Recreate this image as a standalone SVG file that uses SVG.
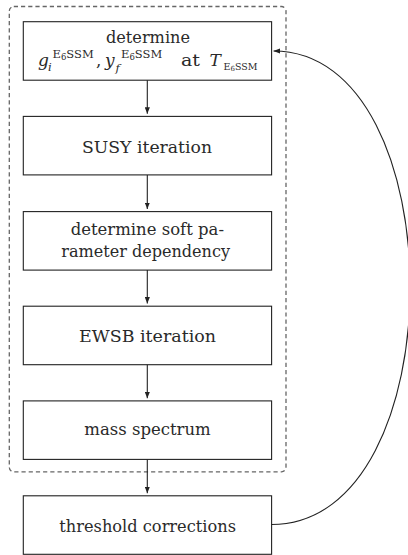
<svg xmlns="http://www.w3.org/2000/svg" width="408" height="555" viewBox="0 0 408 555">
<style>
.box{fill:#fff;stroke:#222;stroke-width:1.1}
.t{font-family:"DejaVu Serif","Liberation Serif","Noto Serif",serif;font-size:17px;fill:#2a2a2a}
.it{font-style:italic}
.sc{font-size:11.5px}
.ss{font-size:8.5px}
.sb{font-size:9.5px}
.sbs{font-size:7px}
.con{fill:none;stroke:#222;stroke-width:1.1}
.grp{fill:none;stroke:#666;stroke-width:1.3;stroke-dasharray:4.2 3}
</style>
<defs>
<marker id="ah" viewBox="0 0 10 8" refX="10" refY="4" markerWidth="6.5" markerHeight="5.2" orient="auto" markerUnits="userSpaceOnUse">
<path d="M0,0 L10,4 L0,8 z" fill="#222"/>
</marker>
</defs>
<rect id="iteration-loop" class="grp" x="9.3" y="6.5" width="276.7" height="465.3" rx="4.5" ry="4.5"/>
<g id="n1">
<rect class="box" x="23.3" y="21.7" width="248.3" height="58.5"/>
<text class="t" x="106" y="42.7" textLength="84" lengthAdjust="spacingAndGlyphs">determine</text>
<text class="t it" x="38" y="66">g</text>
<text class="t it sc" x="48" y="71">i</text>
<text class="t sc" x="52.5" y="57.5">E<tspan class="ss" dy="2">6</tspan><tspan dy="-2">SSM</tspan></text>
<text class="t" x="96" y="66">,</text>
<text class="t it" x="105" y="66">y</text>
<text class="t it sc" x="115.5" y="71.5">f</text>
<text class="t sc" x="121" y="57.5">E<tspan class="ss" dy="2">6</tspan><tspan dy="-2">SSM</tspan></text>
<text class="t" x="181" y="66" textLength="19" lengthAdjust="spacingAndGlyphs">at</text>
<text class="t it" x="209.5" y="66">T</text>
<text class="t sb" x="223.5" y="69.5">E<tspan class="sbs" dy="1.5">6</tspan><tspan dy="-1.5">SSM</tspan></text>
</g>
<g id="n2">
<rect class="box" x="23.3" y="116.4" width="248.3" height="58.5"/>
<text class="t" x="82" y="152.7" textLength="130" lengthAdjust="spacingAndGlyphs">SUSY iteration</text>
</g>
<g id="n3">
<rect class="box" x="23.3" y="211.6" width="248.3" height="58.5"/>
<text class="t" x="70.7" y="235" textLength="153.3" lengthAdjust="spacingAndGlyphs">determine soft pa-</text>
<text class="t" x="61.3" y="257.3" textLength="168.7" lengthAdjust="spacingAndGlyphs">rameter dependency</text>
</g>
<g id="n4">
<rect class="box" x="23.3" y="306.2" width="248.3" height="58.5"/>
<text class="t" x="79" y="341.7" textLength="137" lengthAdjust="spacingAndGlyphs">EWSB iteration</text>
</g>
<g id="n5">
<rect class="box" x="23.3" y="400.9" width="248.3" height="58.5"/>
<text class="t" x="84.3" y="435" textLength="126.4" lengthAdjust="spacingAndGlyphs">mass spectrum</text>
</g>
<g id="n6">
<rect class="box" x="23.3" y="495.8" width="248.3" height="58.5"/>
<text class="t" x="59.3" y="531.7" textLength="176.7" lengthAdjust="spacingAndGlyphs">threshold corrections</text>
</g>
<g id="connectors">
<line class="con" x1="147.3" y1="80.2" x2="147.3" y2="113.8" marker-end="url(#ah)"/>
<line class="con" x1="147.3" y1="174.9" x2="147.3" y2="209" marker-end="url(#ah)"/>
<line class="con" x1="147.3" y1="270.1" x2="147.3" y2="303.6" marker-end="url(#ah)"/>
<line class="con" x1="147.3" y1="364.7" x2="147.3" y2="398.3" marker-end="url(#ah)"/>
<line class="con" x1="147.3" y1="459.4" x2="147.3" y2="493.2" marker-end="url(#ah)"/>
<path class="con" d="M271.6,524.5 C456,524.5 456,51 273.5,51" marker-end="url(#ah)"/>
</g>
</svg>
